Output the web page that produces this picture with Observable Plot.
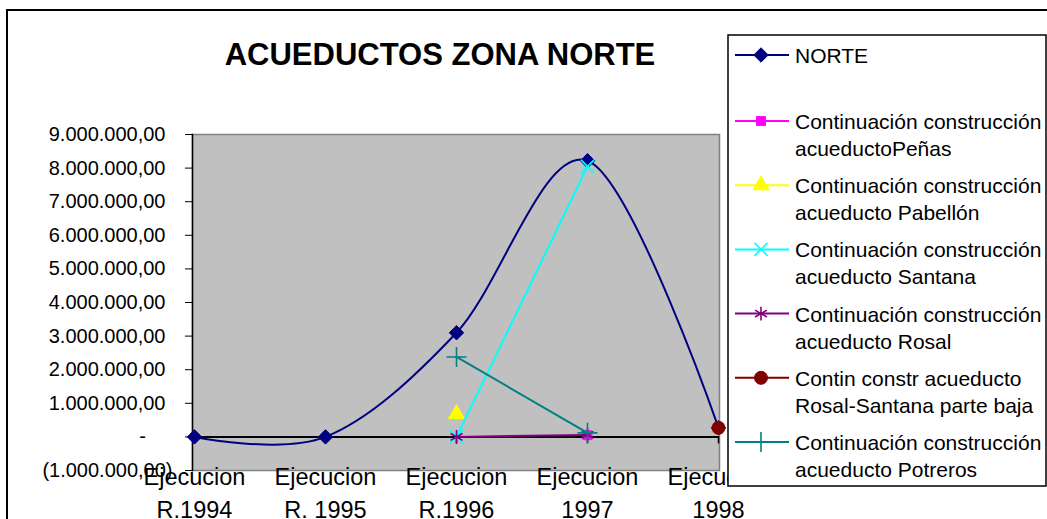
<!DOCTYPE html>
<html>
<head>
<meta charset="utf-8">
<script src="https://cdn.jsdelivr.net/npm/d3@7"></script>
<script src="https://cdn.jsdelivr.net/npm/@observablehq/plot@0.6"></script>
<style>
  html, body { margin: 0; padding: 0; background: #fff; overflow: hidden; }
  #wrap { position: relative; width: 1047px; height: 519px; overflow: hidden; font-family: Arial, "Liberation Sans", sans-serif; }
  #outer { position: absolute; left: 6px; top: 9px; width: 1200px; height: 700px; border: 2px solid #000; box-sizing: border-box; }
  #title { position: absolute; left: 190px; width: 500px; top: 36px; text-align: center; font-weight: bold; font-size: 31px; line-height: 38px; color: #000; }
  #chart { position: absolute; left: 0; top: 0; }
  #legend { position: absolute; left: 0; top: 0; }
</style>
</head>
<body>
<div id="wrap">
  <div id="outer"></div>
  <div id="chart"></div>
  <div id="title">ACUEDUCTOS ZONA NORTE</div>
  <div id="legend"></div>
</div>
<script>
// ---- data ----
const categories = ["R.1994", "R. 1995", "R.1996", "1997", "1998"];
const categoryPrefix = ["Ejecucion", "Ejecucion", "Ejecucion", "Ejecucion", "Ejecucion"];
const seriesNames = [
  "NORTE",
  "Continuación construcción\nacueductoPeñas",
  "Continuación construcción\nacueducto Pabellón",
  "Continuación construcción\nacueducto Santana",
  "Continuación construcción\nacueducto Rosal",
  "Contin constr acueducto\nRosal-Santana parte baja",
  "Continuación construcción\nacueducto Potreros"
];
const norte        = [0, 0, 3100000, 8220000, 270000];
const penas        = [null, null, null, 50000, null];
const pabellon     = [null, null, 680000, null, null];
const santana      = [null, null, 0, 8050000, null];
const rosal        = [null, null, 0, 60000, null];
const rosalSantana = [null, null, null, null, 270000];
const potreros     = [null, null, 2380000, 120000, null];
const yTicks = [-1000000, 0, 1000000, 2000000, 3000000, 4000000, 5000000, 6000000, 7000000, 8000000, 9000000];

const seriesValues = [norte, penas, pabellon, santana, rosal, rosalSantana, potreros];
const colors  = ["#000080", "#FF00FF", "#FFFF00", "#00FFFF", "#800080", "#800000", "#008080"];
const symbols = ["diamond2", "square", "triangle", "times", "asterisk", "circle", "plus"];
const filled  = [true, true, true, false, false, true, false];
const sizes   = [6.5, 5, 6, 6, 6.5, 6.5, 6.5];

// ---- table ----
const rows = [];
seriesValues.forEach((vals, s) => {
  vals.forEach((v, i) => {
    if (v !== null) rows.push({series: s, cat: categories[i], value: v});
  });
});

const loc = d3.formatLocale({decimal: ",", thousands: ".", grouping: [3], currency: ["", ""]});
const f2 = loc.format(",.2f");

const FONT = 'Arial, "Liberation Sans", sans-serif';

const marks = [
  Plot.frame({fill: "#C0C0C0", stroke: "#808080", strokeWidth: 1.5}),
  Plot.ruleY([0], {stroke: "#000", strokeWidth: 2}),
  Plot.ruleX(categories, {x: d => d, y1: 0, y2: 0, insetBottom: -7, stroke: "#000", strokeWidth: 1.5}),
  Plot.frame({anchor: "left", stroke: "#000", strokeWidth: 1.5}),
  Plot.axisY({ticks: yTicks, tickSize: 7, tickFormat: () => "", stroke: "#000", label: null}),
  // y tick labels (accounting style)
  Plot.text(yTicks.filter(d => d > 0), {y: d => d, text: d => f2(d), frameAnchor: "left", dx: -27, textAnchor: "end", fontSize: 20, fill: "#000"}),
  Plot.text(yTicks.filter(d => d === 0), {y: d => d, text: () => "-", frameAnchor: "left", dx: -50, textAnchor: "middle", fontSize: 20, fill: "#000"}),
  Plot.text(yTicks.filter(d => d < 0), {y: d => d, text: d => "(" + f2(-d) + ")", frameAnchor: "left", dx: -20, textAnchor: "end", fontSize: 20, fill: "#000"}),
  // x tick labels (two lines)
  Plot.text(categories, {x: d => d, text: (d, i) => categoryPrefix[i], frameAnchor: "bottom", dy: 7, lineAnchor: "middle", fontSize: 23.5, fill: "#000"}),
  Plot.text(categories, {x: d => d, text: d => d, frameAnchor: "bottom", dy: 40, lineAnchor: "middle", fontSize: 23.5, fill: "#000"})
];

seriesValues.forEach((vals, s) => {
  const data = rows.filter(r => r.series === s);
  if (data.length > 1) {
    marks.push(Plot.line(data, {x: "cat", y: "value", stroke: colors[s], strokeWidth: 2, curve: s === 0 ? "cardinal" : "linear"}));
  }
  marks.push(Plot.dot(data, {
    x: "cat", y: "value", symbol: () => symbols[s], r: sizes[s],
    fill: filled[s] ? colors[s] : "none",
    stroke: colors[s], strokeWidth: filled[s] ? 1 : 1.6
  }));
});

const chart = Plot.plot({
  width: 1047,
  height: 519,
  marginLeft: 192,
  marginRight: 328,
  marginTop: 134,
  marginBottom: 49,
  style: {fontFamily: FONT, background: "transparent", overflow: "visible"},
  x: {type: "point", domain: categories, padding: 0, axis: null},
  y: {domain: [-1000000, 9000000], axis: null},
  symbol: {type: "identity"},
  marks
});
document.getElementById("chart").appendChild(chart);

// ---- legend ----
const L = {x: 728, y: 35, w: 318, h: 451};
const svg = d3.create("svg").attr("width", 1047).attr("height", 519).style("font-family", FONT);
svg.append("rect").attr("x", L.x).attr("y", L.y).attr("width", L.w).attr("height", L.h)
  .attr("fill", "#fff").attr("stroke", "#000").attr("stroke-width", 1.5);
const entryY = i => i === 0 ? 55 : 121 + (i - 1) * 64.2;
const symMap = {diamond2: d3.symbolDiamond2, square: d3.symbolSquare, triangle: d3.symbolTriangle, times: d3.symbolTimes, asterisk: d3.symbolAsterisk, circle: d3.symbolCircle, plus: d3.symbolPlus};
seriesNames.forEach((name, i) => {
  const y = entryY(i);
  const g = svg.append("g");
  g.append("line").attr("x1", 735).attr("x2", 789).attr("y1", y).attr("y2", y).attr("stroke", colors[i]).attr("stroke-width", 2);
  g.append("path").attr("transform", `translate(761,${y})`)
    .attr("d", d3.symbol(symMap[symbols[i]], Math.PI * sizes[i] * sizes[i])())
    .attr("fill", filled[i] ? colors[i] : "none").attr("stroke", colors[i]).attr("stroke-width", filled[i] ? 1 : 1.6);
  const t = g.append("text").attr("x", 795).attr("y", y).attr("font-size", 21).attr("fill", "#000").attr("dominant-baseline", "central");
  name.split("\n").forEach((line, k) => {
    t.append("tspan").attr("x", 795).attr("dy", k === 0 ? 0 : 27).text(line);
  });
});
document.getElementById("legend").appendChild(svg.node());
</script>
</body>
</html>
